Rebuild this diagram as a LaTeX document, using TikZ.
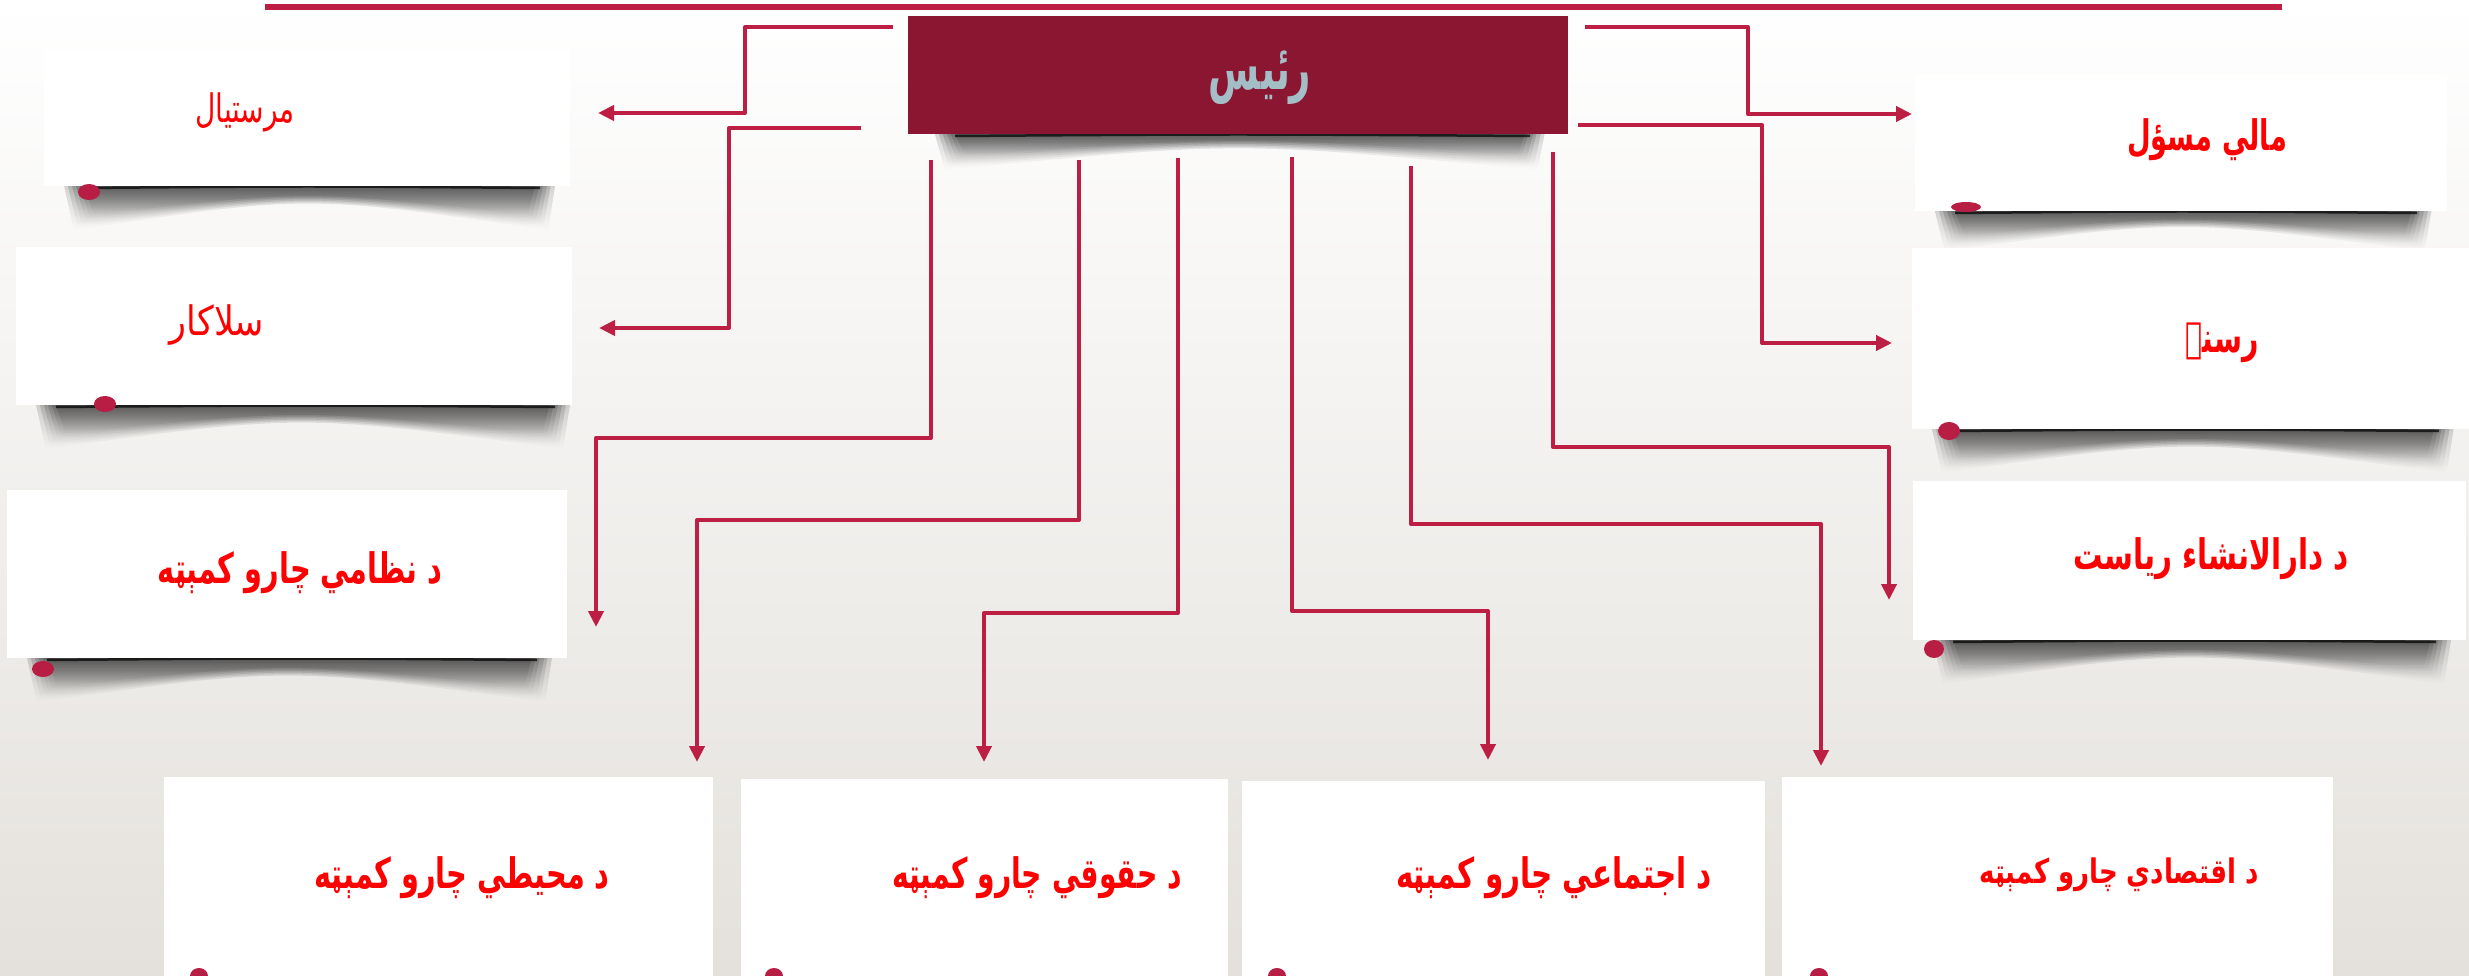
\documentclass[tikz,border=0pt]{standalone}
\usepackage{fontspec}
\usepackage{graphicx}
\usetikzlibrary{arrows.meta,fadings}
\TeXXeTstate=1
\newfontfamily\arabicfont[Script=Arabic]{DejaVu Sans}
\definecolor{crim}{RGB}{188,30,68}
\definecolor{bossfill}{RGB}{138,22,49}
\definecolor{titlecol}{RGB}{163,190,198}
\definecolor{bgbot}{RGB}{228,225,220}
\definecolor{txtred}{RGB}{255,0,0}
\definecolor{dotcol}{RGB}{184,30,68}
\newcommand\papershadowX[4]{%
  \foreach \k in {0,...,5}{%
    \fill[black,opacity=0.15,path fading=south]
      (#1+20+\k*4,#3) -- (#2-15-\k*4,#3) -- (#2-22-\k*4,#3+#4-\k*3)
      .. controls ({(#1+#2)/2},#3+#4*0.2-\k*1) .. (#1+30+\k*4,#3+#4-\k*3) -- cycle;}%
  \draw[black,opacity=0.7,line width=2.5pt] (#1+40,#3+2) .. controls ({(#1+#2)/2},#3) .. (#2-30,#3+2);}
\newcommand\artxt[3]{\scalebox{#1}[#2]{#3}}
\tikzset{
  paper/.style={fill=white, draw=none, inner sep=0pt, anchor=north west},
  conn/.style={draw=crim, line width=4pt, line join=round,
    -{Triangle[length=16pt,width=15pt]}},
  lblb/.style={text=txtred, inner sep=0pt,
    font={\arabicfont\bfseries\fontsize{30}{36}\selectfont}},
  lbln/.style={text=txtred, inner sep=0pt,
    font={\arabicfont\fontsize{28}{34}\selectfont}},
  dotm/.style={fill=dotcol}
}
\begin{document}
\begin{tikzpicture}[x=1pt,y=-1pt]
\useasboundingbox (0,0) rectangle (2469,976);
\shade[top color=white, bottom color=bgbot] (0,0) rectangle (2469,976);

% top rule
\coordinate (r1) at (265,7);
\coordinate (r2) at (2282,7);
\draw[crim, line width=6pt] (r1) -- (r2);

% shadows
\papershadowX{915}{1560}{134}{36}
\papershadowX{44}{570}{186}{44}
\papershadowX{16}{585}{405}{44}
\papershadowX{7}{567}{658}{44}
\papershadowX{1915}{2447}{211}{40}
\papershadowX{1912}{2469}{429}{44}
\papershadowX{1913}{2466}{640}{44}

% boss box
\node[paper, fill=bossfill, minimum width=660pt, minimum height=118pt] (boss) at (908,16) {};
\node[inner sep=0pt, text=titlecol, font={\arabicfont\bfseries\fontsize{44}{50}\selectfont}] (tboss) at (1260,78) {\artxt{0.84}{1.4}{\beginR رئیس\endR}};

% side boxes
\node[paper, minimum width=526pt, minimum height=136pt] (A) at (44,50) {};
\node[paper, minimum width=556pt, minimum height=158pt] (B) at (16,247) {};
\node[paper, minimum width=560pt, minimum height=168pt] (C) at (7,490) {};
\node[paper, minimum width=532pt, minimum height=136pt] (D) at (1915,75) {};
\node[paper, minimum width=557pt, minimum height=181pt] (E) at (1912,248) {};
\node[paper, minimum width=553pt, minimum height=159pt] (F) at (1913,481) {};
% bottom boxes
\node[paper, minimum width=549pt, minimum height=220pt] (G) at (164,777) {};
\node[paper, minimum width=487pt, minimum height=220pt] (H) at (741,779) {};
\node[paper, minimum width=523pt, minimum height=220pt] (I) at (1242,781) {};
\node[paper, minimum width=551pt, minimum height=220pt] (J) at (1782,777) {};

% dots
\fill[dotm] (89,192) ellipse [x radius=11, y radius=8];
\fill[dotm] (105,404) ellipse [x radius=11, y radius=8];
\fill[dotm] (43,669) ellipse [x radius=11, y radius=8];
\fill[dotm] (1966,207) ellipse [x radius=15, y radius=5];
\fill[dotm] (1949,431) ellipse [x radius=11, y radius=9];
\fill[dotm] (1934,649) ellipse [x radius=10, y radius=9];
\fill[dotm] (199,976) ellipse [x radius=9, y radius=8];
\fill[dotm] (774,976) ellipse [x radius=9, y radius=8];
\fill[dotm] (1277,976) ellipse [x radius=9, y radius=8];
\fill[dotm] (1819,976) ellipse [x radius=9, y radius=8];

% labels
\node[lbln] (tA) at (245,112) {\artxt{1.0}{1.4}{\beginR مرستیال\endR}};
\node[lbln] (tB) at (217,325) {\artxt{1.25}{1.45}{\beginR سلاکار\endR}};
\node[lblb] (tC) at (300,573) {\artxt{0.96}{1.4}{\beginR د نظامي چارو کمېټه\endR}};
\node[lblb] (tD) at (2207,140) {\artxt{0.91}{1.4}{\beginR مالي مسؤل\endR}};
\node[lblb] (tE) at (2222,343) {\artxt{0.95}{1.4}{\beginR رسنۍ\endR}};
\node[lblb] (tF) at (2211,559) {\artxt{0.98}{1.4}{\beginR د دارالانشاء رياست\endR}};
\node[lblb] (tG) at (462,878) {\artxt{0.96}{1.4}{\beginR د محيطي چارو کمېټه\endR}};
\node[lblb] (tH) at (1037,878) {\artxt{0.94}{1.4}{\beginR د حقوقي چارو کمېټه\endR}};
\node[lblb] (tI) at (1554,878) {\artxt{0.98}{1.4}{\beginR د اجتماعي چارو کمېټه\endR}};
\node[lblb, font={\arabicfont\bfseries\fontsize{26}{32}\selectfont}] (tJ) at (2119,875) {\artxt{1.0}{1.3}{\beginR د اقتصادي چارو کمېټه\endR}};

% connector endpoints
\coordinate (s1) at (893,27);   \coordinate (e1) at (598,113);
\coordinate (s2) at (861,128);  \coordinate (e2) at (599,328);
\coordinate (s3) at (1585,27);  \coordinate (e3) at (1912,114);
\coordinate (s4) at (1578,125); \coordinate (e4) at (1892,343);
\coordinate (s5) at (931,160);  \coordinate (e5) at (596,627);
\coordinate (s6) at (1079,160); \coordinate (e6) at (697,762);
\coordinate (s7) at (1178,158); \coordinate (e7) at (984,762);
\coordinate (s8) at (1292,157); \coordinate (e8) at (1488,760);
\coordinate (s9) at (1411,166); \coordinate (e9) at (1821,766);
\coordinate (s10) at (1553,152); \coordinate (e10) at (1889,600);

\draw[conn] (s1) -| (745,113) -- (e1);
\draw[conn] (s2) -| (729,328) -- (e2);
\draw[conn] (s3) -| (1748,114) -- (e3);
\draw[conn] (s4) -| (1762,343) -- (e4);
\draw[conn] (s5) |- (596,438) -- (e5);
\draw[conn] (s6) |- (697,520) -- (e6);
\draw[conn] (s7) |- (984,613) -- (e7);
\draw[conn] (s8) |- (1488,611) -- (e8);
\draw[conn] (s9) |- (1821,524) -- (e9);
\draw[conn] (s10) |- (1889,447) -- (e10);
\end{tikzpicture}
\end{document}
